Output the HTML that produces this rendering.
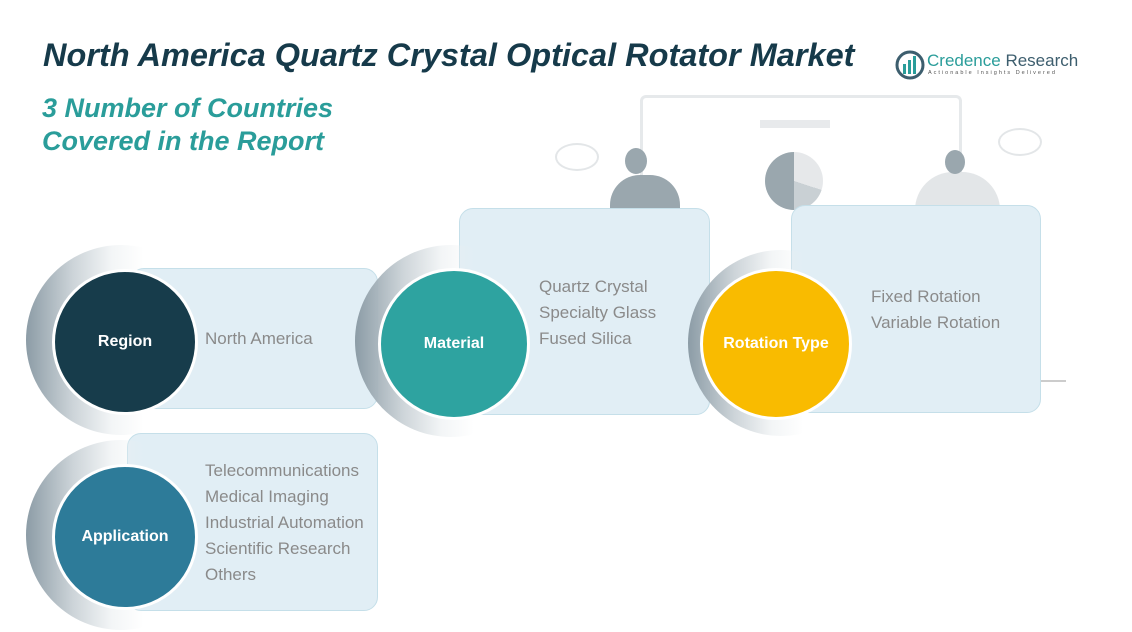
<!DOCTYPE html>
<html><head><style>
body{margin:0;width:1132px;height:632px;background:#fff;position:relative;overflow:hidden;font-family:"Liberation Sans",sans-serif}
.a{position:absolute}
.box{position:absolute;background:#e1eef5;border:1.5px solid #c5dfe9;border-radius:14px}
.sh{position:absolute;border-radius:50%;background:linear-gradient(90deg,rgba(140,156,166,1) 0%,rgba(200,208,213,.9) 25%,rgba(235,239,241,.6) 45%,rgba(255,255,255,0) 62%)}
.c{position:absolute;border-radius:50%;border:3px solid #fff;color:#fff;font-weight:bold;font-size:16px;display:flex;align-items:center;justify-content:center}
.t{position:absolute;color:#8a8a8a;font-size:17px;line-height:26px}
</style></head><body>
<div class="a" style="left:43px;top:37px;font-size:32.5px;font-weight:bold;font-style:italic;color:#163a4a">North America Quartz Crystal Optical Rotator Market</div>
<div class="a" style="left:42px;top:92px;font-size:27px;font-weight:bold;font-style:italic;color:#2a9d9a;line-height:33px">3 Number of Countries<br>Covered in the Report</div>
<svg class="a" style="left:895px;top:50px" width="30" height="30"><circle cx="15" cy="15" r="13" fill="none" stroke="#3d5e6e" stroke-width="3"/><rect x="8" y="14" width="3" height="10" fill="#2a9d9a"/><rect x="13" y="10" width="3" height="14" fill="#2a9d9a"/><rect x="18" y="6" width="3" height="18" fill="#2a9d9a"/></svg>
<div class="a" style="left:927px;top:51px;font-size:17px;color:#2a9d9a">Credence <span style="color:#3d5e6e">Research</span></div>
<div class="a" style="left:928px;top:70px;font-size:5.5px;letter-spacing:2px;color:#555">Actionable Insights Delivered</div>
<!-- illustration -->
<div class="a" style="left:640px;top:95px;width:316px;height:140px;border:3px solid #e6e9eb;border-bottom:none;border-radius:6px 6px 0 0"></div>
<div class="a" style="left:760px;top:120px;width:70px;height:8px;background:#e8eaec"></div>
<div class="a" style="left:765px;top:152px;width:58px;height:58px;border-radius:50%;background:conic-gradient(#e6e8ea 0 30%,#c9d0d4 30% 50%,#9aa7ae 50% 100%)"></div>
<div class="a" style="left:610px;top:175px;width:70px;height:35px;border-radius:30px 30px 0 0;background:#9aa7ae"></div>
<div class="a" style="left:625px;top:148px;width:22px;height:26px;border-radius:50%;background:#9aa7ae"></div>
<div class="a" style="left:915px;top:172px;width:85px;height:38px;border-radius:40px 40px 0 0;background:#e3e6e8"></div>
<div class="a" style="left:945px;top:150px;width:20px;height:24px;border-radius:50%;background:#9aa7ae"></div>
<div class="a" style="left:555px;top:143px;width:40px;height:24px;border:2px solid #e3e6e8;border-radius:50%"></div>
<div class="a" style="left:998px;top:128px;width:40px;height:24px;border:2px solid #e3e6e8;border-radius:50%"></div>
<div class="a" style="left:1030px;top:380px;width:36px;height:2px;background:#ccc"></div>
<!-- boxes -->
<div class="box" style="left:130px;top:268px;width:246px;height:139px"></div>
<div class="box" style="left:459px;top:208px;width:249px;height:205px"></div>
<div class="box" style="left:791px;top:205px;width:248px;height:206px"></div>
<div class="box" style="left:127px;top:433px;width:249px;height:176px"></div>
<!-- shadows -->
<div class="sh" style="left:26px;top:245px;width:190px;height:190px"></div>
<div class="sh" style="left:355px;top:245px;width:192px;height:192px"></div>
<div class="sh" style="left:688px;top:250px;width:186px;height:186px"></div>
<div class="sh" style="left:26px;top:440px;width:190px;height:190px"></div>
<!-- circles -->
<div class="c" style="left:52px;top:269px;width:140px;height:140px;background:#173c4b">Region</div>
<div class="c" style="left:378px;top:268px;width:146px;height:146px;background:#2ea3a0">Material</div>
<div class="c" style="left:700px;top:268px;width:146px;height:146px;background:#f9bb00">Rotation Type</div>
<div class="c" style="left:52px;top:464px;width:140px;height:140px;background:#2d7b99">Application</div>
<!-- text -->
<div class="t" style="left:205px;top:326px">North America</div>
<div class="t" style="left:539px;top:274px">Quartz Crystal<br>Specialty Glass<br>Fused Silica</div>
<div class="t" style="left:871px;top:284px">Fixed Rotation<br>Variable Rotation</div>
<div class="t" style="left:205px;top:458px">Telecommunications<br>Medical Imaging<br>Industrial Automation<br>Scientific Research<br>Others</div>
</body></html>
